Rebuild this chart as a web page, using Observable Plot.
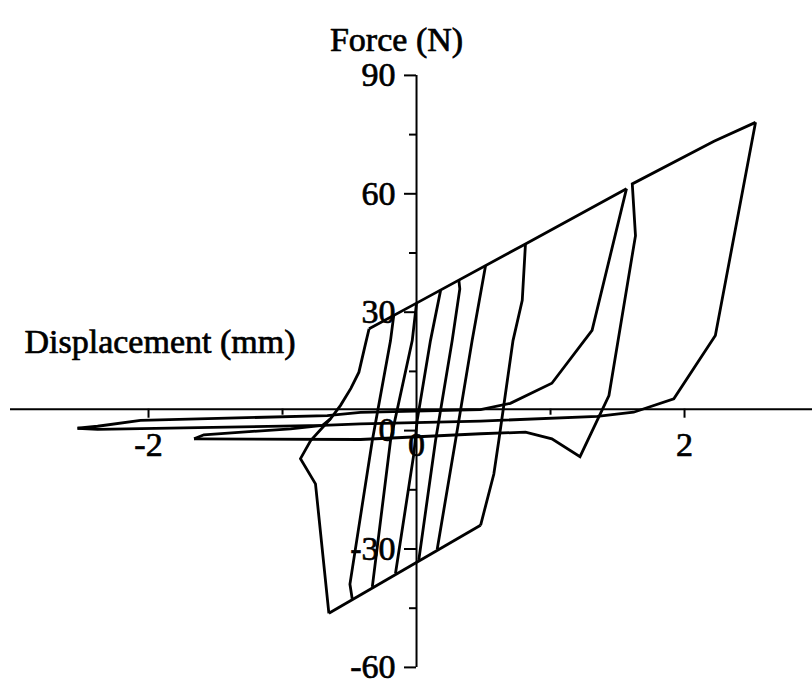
<!DOCTYPE html>
<html>
<head>
<meta charset="utf-8">
<script src="https://cdn.jsdelivr.net/npm/d3@7"></script>
<script src="https://cdn.jsdelivr.net/npm/@observablehq/plot@0.6"></script>
<style>
  html, body { margin: 0; padding: 0; background: #fff; }
  #chart svg { display: block; }
  #chart svg text { font-family: "Liberation Serif", "Times New Roman", serif; }
</style>
</head>
<body>
<div id="chart"></div>
<script>
// Hysteresis record: [displacement (mm), force (N)] along each traced branch.

// Reloading from the -1.66 mm excursion, up the S-shaped branch
const reloadBranch = [[-1.66,-2.1],[-1.587,-1.06],[-0.94,0.46],[-0.704,1.3],[-0.642,3.0],
  [-0.567,6.4],[-0.49,10.7],[-0.43,14.8],[-0.38,22.1],[-0.354,25.8]];

// Positive (upper) friction envelope
const upperEnvelope = [[-0.354,25.8],[0,32.3],[0.813,47.3],[1.567,61.3]];

// Unloading from the 1.57 mm peak, sliding out to -2.53 mm
const firstUnload = [[1.567,61.3],[1.31,25.4],[1.01,12.0],[0.70,6.9],[0.478,5.3],
  [-0.418,4.6],[-0.666,3.8],[-2.06,2.57],[-2.38,1.1],[-2.53,0.6]];

// Return from -2.53 mm, closing on the 2.53 mm peak
const largeLoop = [[-2.53,0.6],[-2.38,0.3],[-0.7,1.3],[-0.418,1.7],[0.478,2.4],
  [1.35,3.6],[1.62,4.66],[1.92,8.05],[2.23,24.1],[2.53,78.1]];

// Loading from -1.66 mm up to the 2.53 mm peak
const secondLoad = [[-1.66,-2.1],[-0.418,-2.25],[0.478,-0.8],[0.813,-0.4],[1.01,-2.1],
  [1.22,-6.6],[1.436,8.9],[1.634,49.4],[1.61,62.5],[2.22,73.3],[2.53,78.1]];

// Negative (lower) friction envelope
const lowerEnvelope = [[-0.654,-46.3],[0.478,-24.0]];

// Reversal at the -0.654 mm corner
const cornerReversal = [[-0.654,-46.3],[-0.754,-13.5],[-0.866,-7.1],[-0.79,-2.5],[-0.642,3.0]];

// Small-amplitude cycles: stick branches between the two envelopes
const cycle1 = [[-0.17,29.2],[-0.194,22.8],[-0.33,-2.5],[-0.497,-38.9],[-0.48,-42.6]];
const cycle2 = [[0,32.3],[-0.032,22.8],[-0.194,-2.5],[-0.33,-39.6]];
const cycle3 = [[0.18,35.6],[0.104,22.8],[0.005,2.6],[-0.02,-5.9],[-0.157,-36.2]];
const cycle4 = [[0.316,38.1],[0.323,35.9],[0.266,22.8],[0.142,-2.5],[0.017,-32.8]];
const cycle5 = [[0.515,41.8],[0.415,22.8],[0.291,-2.5],[0.154,-30.1]];
const cycle6 = [[0.813,47.3],[0.789,33],[0.72,22.8],[0.614,-2.5],[0.577,-11],[0.478,-24.0]];

// Axis ticks and labels
const forceMajor = [-60, -30, 0, 30, 60, 90];
const forceMinor = [-45, -15, 15, 45, 75];
const dispMajor = [-2, 0, 2];
const dispMinor = [-1, 1];
const dispTicks = [-2, 2];
const xAxisLevel = 5.42; // force level at which the displacement axis is drawn

const branches = {
  reloadBranch, upperEnvelope, firstUnload, largeLoop, secondLoad,
  lowerEnvelope, cornerReversal, cycle1, cycle2, cycle3, cycle4, cycle5, cycle6
};
const rows = Object.entries(branches).flatMap(([name, pts]) =>
  pts.map(([d, f]) => ({branch: name, d, f})));

const font = "Liberation Serif";
const ink = {fontSize: 34, fontFamily: font, fill: "#000", stroke: "#000", strokeWidth: 0.7};

const chart = Plot.plot({
  width: 812,
  height: 683,
  marginTop: 74.9,
  marginBottom: 16.1,
  marginLeft: 10,
  marginRight: 0,
  x: {domain: [-3.03, 2.955], axis: null},
  y: {domain: [-60, 90], axis: null},
  style: {fontFamily: "'Liberation Serif', 'Times New Roman', serif", background: "#fff", color: "#000", overflow: "visible"},
  marks: [
    // axes
    Plot.ruleX([0], {y1: -60, y2: 90, stroke: "#000", strokeWidth: 2}),
    Plot.ruleY([xAxisLevel], {stroke: "#000", strokeWidth: 2}),
    // force ticks
    Plot.ruleY(forceMajor, {x1: 0, x2: 0, insetLeft: -12, stroke: "#000", strokeWidth: 2}),
    Plot.ruleY(forceMinor, {x1: 0, x2: 0, insetLeft: -7, stroke: "#000", strokeWidth: 2}),
    // displacement ticks
    Plot.ruleX(dispTicks, {y1: xAxisLevel, y2: xAxisLevel, insetBottom: -9, stroke: "#000", strokeWidth: 2}),
    Plot.ruleX(dispMinor, {y1: xAxisLevel, y2: xAxisLevel, insetBottom: -6, stroke: "#000", strokeWidth: 2}),
    // hysteresis branches
    Plot.line(rows, {x: "d", y: "f", z: "branch", stroke: "#000", strokeWidth: 2.8,
      strokeLinejoin: "miter", strokeMiterlimit: 10, strokeLinecap: "butt", curve: "linear"}),
    // tick labels
    Plot.text(forceMajor, {x: 0, y: d => d, text: d => String(d), textAnchor: "end", dx: -21, ...ink}),
    Plot.text(dispMajor, {x: d => d, y: xAxisLevel, text: d => String(d), dy: 36, ...ink}),
    // axis titles
    Plot.text(["Force (N)"], {x: 0, frameAnchor: "top", text: d => d, dx: -20, dy: -48.8, ...ink}),
    Plot.text([xAxisLevel], {y: d => d, frameAnchor: "left", text: () => "Displacement (mm)",
      textAnchor: "start", dx: 14, dy: -66.9, ...ink})
  ]
});

document.getElementById("chart").append(chart);
</script>
</body>
</html>
